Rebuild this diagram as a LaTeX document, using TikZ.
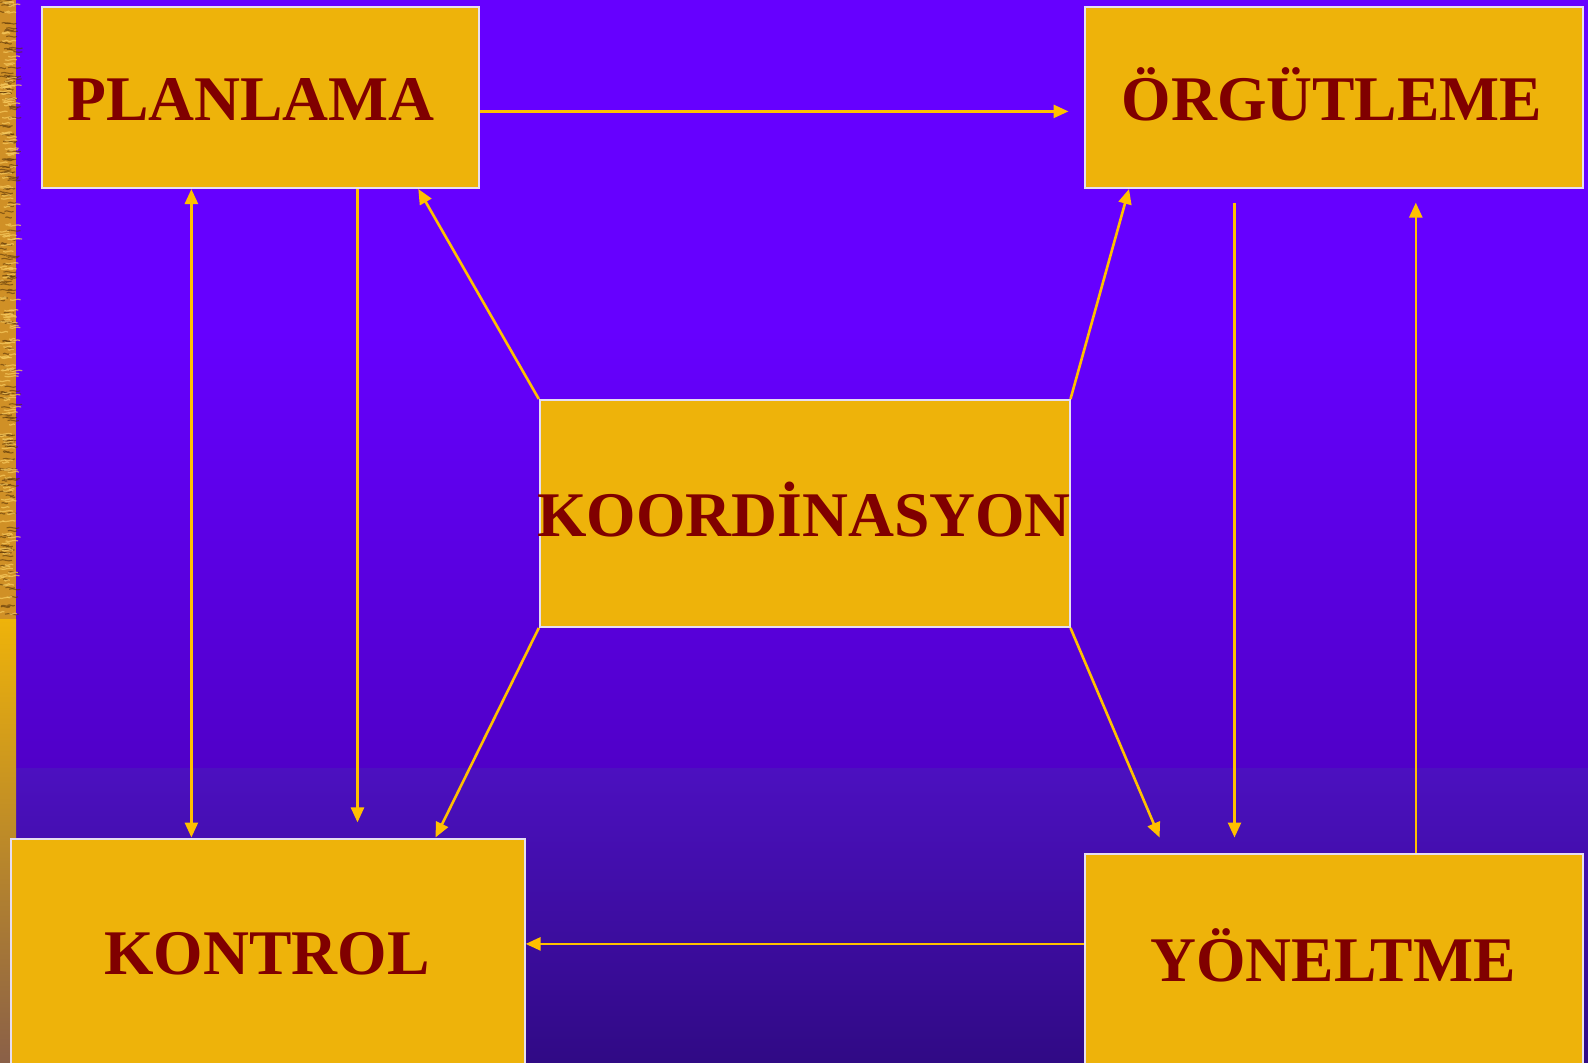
\documentclass[tikz,border=0pt]{standalone}
\usepackage{fontspec}
\setmainfont{Liberation Serif}
\usetikzlibrary{arrows.meta}
\definecolor{bgtop}{HTML}{6600FF}
\definecolor{bgmid}{HTML}{5000C8}
\definecolor{bglow}{HTML}{4C10C0}
\definecolor{bgbot}{HTML}{300A85}
\definecolor{boxfill}{HTML}{EEB30A}
\definecolor{boxline}{HTML}{E6DEF0}
\definecolor{txt}{HTML}{800000}
\definecolor{arrc}{HTML}{FFC000}
\definecolor{stripgold}{HTML}{D09026}
\definecolor{stripdark}{HTML}{5A3508}
\definecolor{striplight}{HTML}{F8CC60}
\definecolor{stripbrown}{HTML}{8A6048}
\tikzset{
  boxnode/.style={draw=boxline, line width=2pt, fill=boxfill, rectangle, inner sep=0pt, anchor=north west},
  lbl/.style={text=txt, font=\fontsize{63.6}{70}\selectfont\bfseries, anchor=base, inner sep=0pt},
  arr/.style={draw=arrc, line width=2.6pt, -{Triangle[length=15pt,width=13pt]}},
  arrtwo/.style={draw=arrc, line width=2.6pt, {Triangle[length=15pt,width=13pt]}-{Triangle[length=15pt,width=13pt]}}
}
\begin{document}
\begin{tikzpicture}[x=1pt,y=-1pt]
\clip (0,0) rectangle (1588,1063);
% background
\fill[bgtop] (0,0) rectangle (1588,330);
\shade[top color=bgtop, bottom color=bgmid] (0,329) rectangle (1588,768);
\shade[top color=bglow, bottom color=bgbot] (0,768) rectangle (1588,1063);
% left strip
\fill[stripgold] (0,0) rectangle (16,619);
\pgfmathsetseed{7}
\foreach \i in {1,...,170}{
  \pgfmathsetmacro{\yy}{rnd*615}
  \pgfmathsetmacro{\xx}{rnd*12-2}
  \pgfmathsetmacro{\ww}{5+rnd*9}
  \draw[stripdark, line width=1.1pt, opacity=0.6] (\xx,\yy) .. controls (\xx+\ww/3,\yy-2) and (\xx+2*\ww/3,\yy+2) .. (\xx+\ww,\yy);
}
\foreach \i in {1,...,170}{
  \pgfmathsetmacro{\yy}{rnd*615}
  \pgfmathsetmacro{\xx}{rnd*12-2}
  \pgfmathsetmacro{\ww}{5+rnd*9}
  \draw[striplight, line width=1.2pt, opacity=0.7] (\xx,\yy) .. controls (\xx+\ww/3,\yy+2) and (\xx+2*\ww/3,\yy-2) .. (\xx+\ww,\yy);
}
\shade[top color=boxfill, bottom color=stripbrown] (0,619) rectangle (16,1063);
% boxes
\node[boxnode, minimum width=437.5pt, minimum height=181pt] (pl) at (40.5,6) {};
\node[boxnode, minimum width=498.5pt, minimum height=181pt] (org) at (1083.6,6) {};
\node[boxnode, minimum width=529.7pt, minimum height=227pt] (kd) at (538.8,399) {};
\node[boxnode, minimum width=513.6pt, minimum height=240pt] (ko) at (10,837.5) {};
\node[boxnode, minimum width=498.5pt, minimum height=225pt] (yon) at (1083.6,852.7) {};
% labels
\node[lbl] (plT) at (251,120.5) {PLANLAMA};
\node[lbl] (orgT) at (1332,120.5) {ÖRGÜTLEME};
\node[lbl] (kdT) at (804,536) {KOORDİNASYON};
\node[lbl] (koT) at (267,974) {KONTROL};
\node[lbl] (yonT) at (1333,981) {YÖNELTME};
% helper coordinates
\coordinate (c1) at (1068.5,111.4);
\coordinate (xa) at (191.4,0);
\coordinate (xb) at (357.5,822.4);
\coordinate (xc) at (418.3,0);
\coordinate (xd) at (1129,0);
\coordinate (xe) at (435.5,0);
\coordinate (xf) at (1159.6,837.5);
\coordinate (xg1) at (1234.5,202.6);
\coordinate (xg2) at (1234.5,837.5);
\coordinate (xh) at (1415.8,202.6);
\coordinate (yy) at (0,943.9);
% connectors
\draw[arr] (pl.east |- c1) -- (c1);
\draw[arrtwo] (pl.south -| xa) -- (ko.north -| xa);
\draw[arr] (pl.south -| xb) -- (xb);
\draw[arr] (kd.north west) -- (pl.south -| xc);
\draw[arr] (kd.north east) -- (org.south -| xd);
\draw[arr] (kd.south west) -- (ko.north -| xe);
\draw[arr] (kd.south east) -- (xf);
\draw[arr] (xg1) -- (xg2);
\draw[arr] (yon.north -| xh) -- (xh);
\draw[arr] (yon.west |- yy) -- (ko.east |- yy);
\end{tikzpicture}
\end{document}
